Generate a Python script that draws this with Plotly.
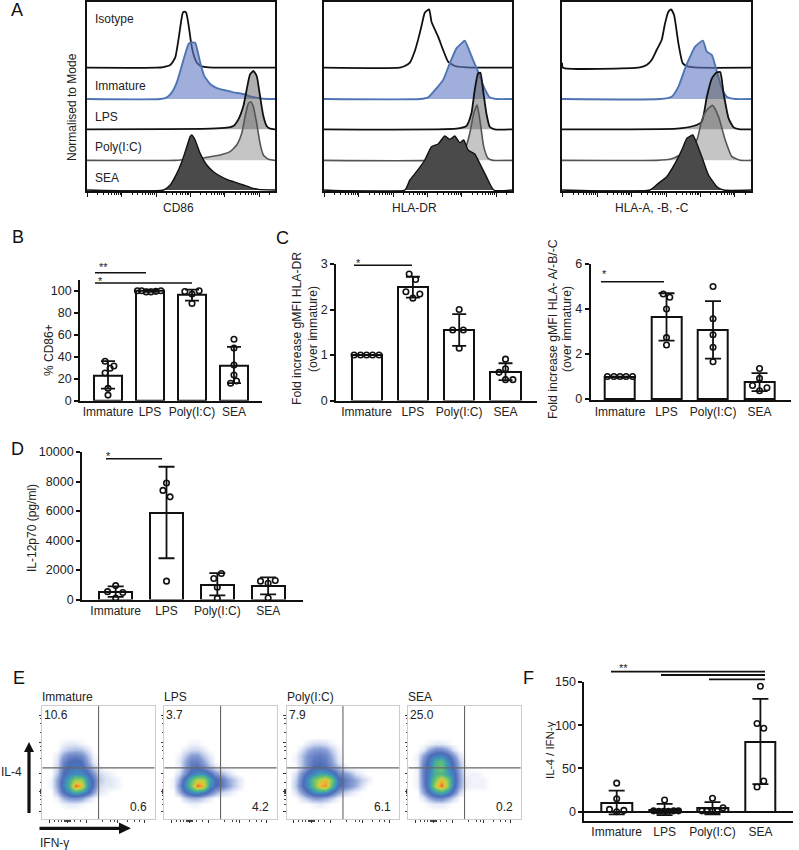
import plotly.graph_objects as go

W, H = 799, 850
FONT = "Liberation Sans"
INK = "#222222"

categories = ["Immature", "LPS", "Poly(I:C)", "SEA"]

# ---------- Panel A: histograms (channel, height above that row's baseline)
row_baselines = {"isotype": 370, "immature": 276, "lps": 185, "poly": 92, "sea": 3}

cd86_isotype_x = [0, 210, 230, 250, 265, 275, 283, 288, 293, 298, 305, 312, 320, 330, 345, 365, 565]
cd86_isotype_h = [0, 0, 2, 8, 30, 85, 140, 165, 168, 165, 130, 80, 40, 15, 4, 1, 0]
cd86_immature_x = [0, 220, 240, 255, 270, 285, 295, 305, 310, 325, 332, 340, 352, 370, 390, 420, 440, 470, 490, 515, 540, 565]
cd86_immature_h = [0, 0, 5, 20, 50, 100, 135, 165, 169, 169, 145, 110, 70, 45, 33, 25, 20, 15, 8, 3, 0, 0]
cd86_lps_x = [0, 370, 420, 440, 455, 470, 480, 490, 500, 510, 520, 530, 540, 550, 565]
cd86_lps_h = [0, 2, 5, 10, 30, 70, 120, 165, 175, 160, 100, 40, 10, 2, 0]
cd86_poly_x = [0, 265, 300, 340, 370, 400, 430, 450, 465, 475, 485, 492, 500, 510, 520, 530, 545, 565]
cd86_poly_h = [0, 0, 3, 5, 11, 16, 26, 46, 81, 131, 171, 176, 161, 111, 51, 16, 3, 0]
cd86_sea_x = [0, 230, 250, 270, 285, 300, 310, 315, 325, 340, 360, 380, 400, 420, 440, 470, 490, 515, 565]
cd86_sea_h = [0, 0, 15, 50, 85, 130, 160, 165, 150, 110, 75, 55, 42, 32, 25, 15, 8, 2, 0]

dr_isotype_x = [0, 228, 243, 258, 273, 283, 293, 303, 316, 323, 343, 358, 373, 393, 428, 565]
dr_isotype_h = [0, 0, 5, 15, 50, 85, 125, 165, 175, 138, 93, 53, 18, 5, 1, 0]
dr_immature_x = [0, 288, 313, 338, 358, 378, 398, 413, 423, 436, 448, 463, 478, 498, 518, 565]
dr_immature_h = [0, 0, 5, 32, 57, 107, 152, 167, 175, 147, 117, 82, 42, 5, 0, 0]
dr_lps_x = [0, 398, 428, 443, 453, 463, 470, 478, 488, 498, 513, 565]
dr_lps_h = [0, 2, 10, 48, 118, 168, 170, 118, 48, 8, 0, 0]
dr_poly_x = [0, 308, 348, 388, 423, 438, 450, 460, 470, 480, 493, 508, 565]
dr_poly_h = [0, 0, 6, 21, 33, 81, 141, 166, 111, 41, 6, 0, 0]
dr_sea_x = [0, 243, 258, 278, 303, 323, 343, 363, 378, 393, 408, 420, 433, 453, 468, 488, 510, 565]
dr_sea_h = [0, 0, 30, 55, 90, 130, 138, 162, 152, 162, 142, 150, 120, 108, 80, 40, 0, 0]

abc_isotype_x = [0, 3, 233, 253, 268, 283, 298, 308, 318, 326, 335, 348, 361, 378, 408, 565]
abc_isotype_h = [15, 0, 1, 8, 23, 53, 83, 133, 168, 175, 158, 73, 13, 3, 0, 0]
abc_immature_x = [0, 293, 328, 348, 368, 383, 398, 421, 433, 448, 463, 478, 493, 518, 565]
abc_immature_h = [0, 0, 7, 37, 92, 127, 157, 175, 142, 132, 82, 32, 7, 0, 0]
abc_lps_x = [0, 343, 393, 418, 433, 448, 461, 473, 483, 498, 513, 533, 565]
abc_lps_h = [0, 2, 10, 23, 98, 153, 170, 172, 108, 33, 6, 0, 0]
abc_poly_x = [0, 283, 323, 353, 373, 403, 418, 433, 450, 468, 488, 508, 533, 565]
abc_poly_h = [0, 0, 3, 16, 31, 61, 121, 151, 165, 131, 61, 11, 0, 0]
abc_sea_x = [0, 263, 288, 313, 338, 358, 373, 381, 391, 401, 418, 438, 463, 483, 565]
abc_sea_h = [0, 0, 20, 40, 80, 120, 155, 160, 165, 145, 100, 45, 10, 0, 0]

# ---------- Panel B
b_means = [23, 100, 96, 32]
b_err_hi = [36, 101, 101, 49]
b_err_lo = [11, 99, 91, 16]
b_pts = [[36, 31.7, 29.6, 25.3, 11.3, 5.2], [100, 100, 99, 99, 99.5, 100], [99.4, 97, 100, 88.4], [56, 48, 32.6, 23.5, 18, 16]]
b_jit = [[-0.07, 0.14, 0.05, -0.07, 0, 0], [-0.3, -0.2, -0.09, 0.02, 0.14, 0.26], [-0.17, 0, 0.17, 0], [0, 0, 0, 0, 0.06, -0.08]]

# ---------- Panel C
c1_means = [1, 2.5, 1.55, 0.63]
c1_err_hi = [1, 2.72, 1.9, 0.82]
c1_err_lo = [1, 2.26, 1.2, 0.45]
c1_pts = [[1, 1, 1, 1, 1], [2.78, 2.66, 2.39, 2.34, 2.25], [2.0, 1.55, 1.55, 1.15], [0.91, 0.70, 0.62, 0.46, 0.46]]
c1_jit = [[-0.27, -0.13, 0, 0.13, 0.27], [-0.08, 0.06, -0.15, 0.15, 0], [0, -0.14, 0.09, 0], [0, 0, -0.14, 0, 0.16]]

c2_means = [1, 3.65, 3.05, 0.75]
c2_err_hi = [1, 4.7, 4.35, 1.15]
c2_err_lo = [1, 2.6, 1.8, 0.35]
c2_pts = [[1, 1, 1, 1, 1], [4.67, 4.52, 4.0, 2.73, 2.4], [5.0, 3.57, 2.86, 2.3, 1.66], [1.36, 0.92, 0.6, 0.5, 0.37]]
c2_jit = [[-0.27, -0.13, 0, 0.13, 0.27], [-0.07, 0.07, 0, 0, 0], [0, 0, 0, 0, 0], [0, 0, -0.15, 0.16, 0]]

# ---------- Panel D
d_means = [500, 5850, 1000, 900]
d_err_hi = [900, 9000, 1800, 1500]
d_err_lo = [180, 2800, 280, 350]
d_pts = [[950, 540, 480, 110], [7900, 7400, 6960, 1250], [1770, 1430, 840, 70], [1250, 1290, 1110, 110]]
d_jit = [[0, -0.16, 0.14, 0], [0, -0.07, 0.07, 0], [0.08, -0.07, 0, 0], [-0.15, 0.14, 0, 0]]

# ---------- Panel F
f_means = [10, 2, 4, 81]
f_err_hi = [24.3, 9, 11, 130.6]
f_err_lo = [-3, -4, -3, 32]
f_pts = [[33, 15, 2.7, 0, 1.5], [13.5, 1, 0.5, 0.5, 0.5, 1, 1], [15.5, 4.6, 1, 0.5, 0.5, 0.5], [145, 102, 96.5, 35.5, 28.5]]
f_jit = [[0, 0, -0.15, 0, 0.15], [0, -0.23, -0.12, -0.02, 0.08, 0.19, 0.29], [0, 0.22, -0.22, -0.12, 0, 0.1], [0, -0.07, 0.07, 0.07, -0.07]]

# ---------- Panel E: density read by eye on a coarse grid (channels)
flow_x = [3, 9, 15, 21, 27, 33, 39, 45, 51, 57, 63, 69, 75, 81, 87]
flow_y = [81, 75, 69, 63, 57, 51, 45, 39, 33, 27, 21, 15, 9]
flow_immature = [
    [0],
    [0, 0, 0, .1, .2, .2, .1],
    [0, 0, 0, .4, .6, .7, .6, .3],
    [0, 0, .2, 1, 1.5, 1.6, 1.4, .7, .1],
    [0, 0, .3, 1.5, 2, 2.2, 2, 1, .2],
    [0, 0, .4, 1.7, 2.2, 2.4, 2.3, 1.4, .6, .1],
    [0, 0, .6, 2, 2.6, 3, 2.8, 2.2, 1.2, .4, .2, .1],
    [0, .1, 1, 2.4, 3.8, 5.5, 5.5, 3, 1.8, .6, .3, .2, .1],
    [0, .1, 1, 2.6, 4.2, 8, 7, 3.2, 1.8, .4, .2, .2, .1],
    [0, 0, .7, 2, 3, 4, 3.4, 2.4, 1.1, .2, .1],
    [0, 0, .1, .8, 1.2, 1.3, 1.1, .5, .1],
    [0, 0, 0, .1, .2, .2, .1],
    [0],
]
flow_lps = [
    [0],
    [0, 0, 0, 0, .1, .1],
    [0, 0, 0, .2, .4, .4, .2],
    [0, 0, .1, .6, 1.1, 1.1, .6, .2],
    [0, 0, .2, .9, 1.6, 1.6, 1, .4],
    [0, 0, .1, 1, 1.8, 2, 1.5, .8, .3, .1],
    [0, 0, .4, 1.3, 2.4, 3, 3, 2.2, 1.2, .8, .4, .1],
    [0, .1, .9, 2.6, 4.5, 6, 6, 3.6, 2.2, 1.8, 1, .6, .2],
    [0, .1, 1.2, 3, 5, 8, 7, 3.2, 2, 1.8, 1.1, .6, .2],
    [0, 0, .8, 2, 3, 3.4, 2.8, 1.8, 1, .5, .3, .1],
    [0, 0, 0, .5, .8, .8, .5, .2],
    [0, 0, 0, 0, .1, .1],
    [0],
]
flow_poly = [
    [0],
    [0, 0, 0, .2, .4, .4, .3, .1],
    [0, 0, .3, .8, 1.1, 1.2, 1, .5, .1],
    [0, .1, .6, 1.2, 1.6, 1.7, 1.5, .8, .2],
    [0, .1, .6, 1.3, 1.8, 1.9, 1.7, 1, .3],
    [0, 0, .6, 1.4, 2, 2.1, 1.9, 1.3, .8, .2],
    [0, .3, 1.3, 2.2, 2.8, 3.5, 3.5, 2.8, 1.6, 1.2, .8, .3, .1],
    [0, .5, 1.7, 3, 4.8, 6, 7, 5, 2.4, 1.8, 1.3, .9, .5, .2],
    [0, .6, 1.8, 3, 4.6, 7, 7.5, 4.4, 2.2, 1.7, 1.2, .8, .3],
    [0, .3, 1.1, 2, 3, 3.5, 3.2, 2.1, 1.2, .6, .3, .1],
    [0, 0, .3, .7, 1.1, 1.1, .9, .5, .1],
    [0, 0, 0, 0, .1, .2, .1],
    [0],
]
flow_sea = [
    [0],
    [0, 0, 0, .1, .2, .2, .1],
    [0, 0, .2, .9, 1.4, 1.4, 1, .3],
    [0, .1, 1, 2, 2.6, 2.8, 2.2, 1.2, .3],
    [0, .1, 1.4, 2.4, 4, 4.6, 3, 1.8, .6],
    [0, .1, 1.6, 2.5, 4.2, 4.8, 3.2, 2, .8, .1],
    [0, .1, 1.6, 2.6, 4, 4.2, 3.4, 2.4, 1, .1, .1, .1],
    [0, .1, 1.5, 3, 5, 7, 5.2, 2.6, 1.1, .2, .1, .1, .1],
    [0, .1, 1.4, 3, 6, 8, 5.6, 2.4, 1, .2, .1, .1, .1],
    [0, 0, 1, 2.2, 3.4, 4, 3.2, 1.7, .5],
    [0, 0, .2, .9, 1.4, 1.5, 1, .4],
    [0, 0, 0, .1, .2, .2, .1],
    [0],
]
flow_labels = ["Immature", "LPS", "Poly(I:C)", "SEA"]
flow_upper_left = ["10.6", "3.7", "7.9", "25.0"]
flow_lower_right = ["0.6", "4.2", "6.1", "0.2"]
flow_major_ticks_x = [7, 25, 44, 75, 102]
flow_minor_ticks_x = [12, 16, 19, 22, 23, 24, 26, 27, 28, 32, 38, 60, 68, 72, 85, 92, 97]
flow_major_ticks_y = [7, 27, 45, 76, 103]
flow_minor_ticks_y = [14, 19, 23, 25, 26, 28, 29, 36, 60, 68, 72, 86, 95, 100]
flow_gate_x = 56
flow_gate_y = 51

# ---------- Layout helpers (pixels of the page to paper fractions)
def X(p):
    return p / W

def Y(p):
    return 1 - p / H

fig = go.Figure()
annotations = []
shapes = []
layout_axes = {}
axis_counter = [0]

def new_axes(x0, x1, y_top, y_bot, xcfg, ycfg):
    axis_counter[0] += 1
    n = axis_counter[0]
    sx = "" if n == 1 else str(n)
    layout_axes["xaxis" + sx] = dict(domain=[X(x0), X(x1)], anchor="y" + sx, **xcfg)
    layout_axes["yaxis" + sx] = dict(domain=[Y(y_bot), Y(y_top)], anchor="x" + sx, **ycfg)
    return "x" + sx, "y" + sx

def text(x, y, s, size=12, anchor="center", angle=0, color=INK):
    nudge = {"left": -1.5, "right": 1.5, "center": 0}[anchor]
    annotations.append(dict(x=X(x + nudge), y=Y(y), xref="paper", yref="paper", text=s, showarrow=False,
                            xanchor=anchor, yanchor="middle", textangle=angle, borderpad=0,
                            font=dict(family=FONT, size=size, color=color)))

def bracket(x0, x1, y, width=1.6):
    shapes.append(dict(type="line", xref="paper", yref="paper", x0=X(x0), x1=X(x1), y0=Y(y), y1=Y(y),
                       line=dict(color="#111111", width=width)))

# ---------- Panel A drawing
decades = [2, 105, 208, 311, 414, 517]
offs = [31, 48, 62, 72, 80, 87, 93, 98]
minor_ticks = [d + o for d in decades for o in offs if d + o < 565]

def histogram_panel(x0, x1, curves, xlabel_x, xlabel):
    xa, ya = new_axes(x0, x1, 1.7, 191,
        dict(range=[0, 565], showgrid=False, zeroline=False, showline=True, mirror=True, linecolor="#111111",
             linewidth=2, ticks="outside", ticklen=4, tickwidth=1.2, tickcolor="#111111",
             tickvals=decades, showticklabels=False,
             minor=dict(tickmode="array", tickvals=minor_ticks, ticks="outside", ticklen=2, tickwidth=1, tickcolor="#111111")),
        dict(range=[0, 568], showgrid=False, zeroline=False, showline=True, mirror=True, linecolor="#111111",
             linewidth=2, ticks="", showticklabels=False))
    styles = {
        "isotype": dict(fill=None, line="#111111", w=1.8),
        "immature": dict(fill="rgba(95,120,195,0.6)", line="#4f74b3", w=1.9),
        "lps": dict(fill="rgba(95,95,95,0.5)", line="#111111", w=1.8),
        "poly": dict(fill="rgba(110,110,110,0.4)", line="#555555", w=1.6),
        "sea": dict(fill="#4a4a4a", line="#111111", w=1.4),
    }
    for name in ["isotype", "immature", "lps", "poly", "sea"]:
        xs, hs = curves[name]
        st = styles[name]
        base = row_baselines[name]
        fig.add_trace(go.Scatter(x=xs, y=[base + h for h in hs], mode="lines", xaxis=xa, yaxis=ya,
                                 line=dict(color=st["line"], width=st["w"], shape="spline", smoothing=0.5),
                                 fill="toself" if st["fill"] else "none", fillcolor=st["fill"],
                                 hoverinfo="skip"))
    text(xlabel_x, 208, xlabel, size=12)

histogram_panel(87, 275, {
    "isotype": (cd86_isotype_x, cd86_isotype_h), "immature": (cd86_immature_x, cd86_immature_h),
    "lps": (cd86_lps_x, cd86_lps_h), "poly": (cd86_poly_x, cd86_poly_h), "sea": (cd86_sea_x, cd86_sea_h)}, 178, "CD86")
histogram_panel(324, 512, {
    "isotype": (dr_isotype_x, dr_isotype_h), "immature": (dr_immature_x, dr_immature_h),
    "lps": (dr_lps_x, dr_lps_h), "poly": (dr_poly_x, dr_poly_h), "sea": (dr_sea_x, dr_sea_h)}, 415, "HLA-DR")
histogram_panel(562, 751, {
    "isotype": (abc_isotype_x, abc_isotype_h), "immature": (abc_immature_x, abc_immature_h),
    "lps": (abc_lps_x, abc_lps_h), "poly": (abc_poly_x, abc_poly_h), "sea": (abc_sea_x, abc_sea_h)}, 652, "HLA-A, -B, -C")

for lab, py in zip(["Isotype", "Immature", "LPS", "Poly(I:C)", "SEA"], [19, 86, 117, 147, 178]):
    text(95, py, lab, size=12, anchor="left")
text(72, 107, "Normalised to Mode", size=12, angle=-90)

# ---------- Bar panels
def bar_panel(x0, x1, y_top, y_bot, xr, yr, yticks, means, hi, lo, pts, jit, barw, cap, zeroline=False):
    xa, ya = new_axes(x0, x1, y_top, y_bot,
        dict(range=xr, showgrid=False, zeroline=False, showline=True, linecolor="#111111", linewidth=1.8,
             tickmode="array", tickvals=[0, 1, 2, 3], ticktext=categories, ticks="", tickangle=0,
             ticklabelstandoff=-1,
             tickfont=dict(family=FONT, size=12, color=INK), automargin=False),
        dict(range=yr, showgrid=False, zeroline=zeroline, zerolinecolor="#111111", zerolinewidth=2,
             showline=True, linecolor="#111111", linewidth=1.8,
             tickmode="array", tickvals=yticks, tickformat="d", ticks="outside", ticklen=4, tickwidth=1.5, tickcolor="#111111",
             tickfont=dict(family=FONT, size=12.5, color=INK), automargin=False))
    fig.add_trace(go.Bar(x=[0, 1, 2, 3], y=means, width=barw, xaxis=xa, yaxis=ya,
                         marker=dict(color="white", line=dict(color="#111111", width=2)),
                         error_y=dict(type="data", symmetric=False,
                                      array=[h - m for h, m in zip(hi, means)],
                                      arrayminus=[m - l for m, l in zip(means, lo)],
                                      color="#111111", thickness=1.8, width=cap),
                         hoverinfo="skip"))
    px, py = [], []
    for i, (ys, js) in enumerate(zip(pts, jit)):
        for v, j in zip(ys, js):
            px.append(i + j)
            py.append(v)
    fig.add_trace(go.Scatter(x=px, y=py, mode="markers", xaxis=xa, yaxis=ya, cliponaxis=False,
                             marker=dict(symbol="circle-open", size=5.5, color="#111111", line=dict(width=1.6, color="#111111")),
                             hoverinfo="skip"))

bar_panel(80, 262, 279.8, 400.8, [-0.667, 3.667], [0, 110], [0, 20, 40, 60, 80, 100],
          b_means, b_err_hi, b_err_lo, b_pts, b_jit, 0.655, 7)
bar_panel(336, 537, 264, 400.6, [-0.66, 3.68], [0, 3], [0, 1, 2, 3],
          c1_means, c1_err_hi, c1_err_lo, c1_pts, c1_jit, 0.65, 7)
bar_panel(590.7, 790.7, 264, 400.4, [-0.63, 3.67], [-0.06, 6], [0, 2, 4, 6],
          c2_means, c2_err_hi, c2_err_lo, c2_pts, c2_jit, 0.645, 8)
bar_panel(82, 302.7, 452, 599.6, [-0.663, 3.68], [0, 10000], [0, 2000, 4000, 6000, 8000, 10000],
          d_means, d_err_hi, d_err_lo, d_pts, d_jit, 0.65, 8)
bar_panel(584.3, 792.7, 682, 820.7, [-0.676, 3.674], [-10.4, 150], [0, 50, 100, 150],
          f_means, f_err_hi, f_err_lo, f_pts, f_jit, 0.64, 8, zeroline=True)

text(49, 350, "% CD86+", size=12, angle=-90)
text(297, 329, "Fold increase gMFI HLA-DR", size=12.2, angle=-90)
text(313, 329, "(over immature)", size=12.2, angle=-90)
text(553, 329, "Fold increase gMFI HLA- A/-B/-C", size=12.3, angle=-90)
text(567, 329, "(over immature)", size=12.2, angle=-90)
text(32, 528, "IL-12p70 (pg/ml)", size=12, angle=-90)
text(550, 750, "IL-4 / IFN-γ", size=11.5, angle=-90)

bracket(95, 146, 272.7)
bracket(95, 192, 283)
bracket(354, 412, 265.3)
bracket(601, 664, 281.7)
bracket(106, 162, 458.7)
bracket(611, 765, 671.7, 1.8)
bracket(661, 765, 675, 1.8)
bracket(709, 765, 679.3, 1.8)
for sx, sy, s in [(103, 267, "**"), (100, 281, "*"), (358, 263, "*"), (604, 274, "*"), (108.7, 456, "*"), (623, 668, "**")]:
    text(sx, sy, s, size=11)

# ---------- Panel E drawing
colorscale = [[0, "#ffffff"], [0.1 / 8.5, "#f1f3fb"], [0.5 / 8.5, "#c3cfec"], [1 / 8.5, "#8ba0d6"],
              [2 / 8.5, "#4d6bb8"], [3 / 8.5, "#3f8fc0"], [4 / 8.5, "#4bb48c"], [5 / 8.5, "#7cc46a"],
              [6 / 8.5, "#bcd645"], [7 / 8.5, "#f2b632"], [8 / 8.5, "#e9602c"], [1, "#d8352a"]]

flow_lefts = [42.3, 164.3, 286.7, 408.3]
for left, z, lab, ul, lr in zip(flow_lefts, [flow_immature, flow_lps, flow_poly, flow_sea], flow_labels, flow_upper_left, flow_lower_right):
    right = left + 112.5
    xa, ya = new_axes(left, right, 705.7, 819,
        dict(range=[0, 112], showgrid=False, zeroline=False, showline=True, mirror=True, linecolor="#cccccc", linewidth=1,
             tickmode="array", tickvals=flow_major_ticks_x, ticks="outside", ticklen=2.5, tickwidth=1, tickcolor="#333333",
             showticklabels=False,
             minor=dict(tickmode="array", tickvals=flow_minor_ticks_x, ticks="outside", ticklen=1.5, tickwidth=1, tickcolor="#444444")),
        dict(range=[0, 113], showgrid=False, zeroline=False, showline=True, mirror=True, linecolor="#cccccc", linewidth=1,
             tickmode="array", tickvals=flow_major_ticks_y, ticks="outside", ticklen=2.5, tickwidth=1, tickcolor="#333333",
             showticklabels=False,
             minor=dict(tickmode="array", tickvals=flow_minor_ticks_y, ticks="outside", ticklen=1.5, tickwidth=1, tickcolor="#444444")))
    rows = [r + [0] * (len(flow_x) - len(r)) for r in z]
    fig.add_trace(go.Heatmap(x=flow_x, y=flow_y[::-1], z=rows[::-1], zsmooth="best", zmin=0, zmax=8.5,
                             colorscale=colorscale, showscale=False, xaxis=xa, yaxis=ya, hoverinfo="skip"))
    fig.add_trace(go.Scatter(x=[flow_gate_x, flow_gate_x], y=[0, 113], mode="lines", xaxis=xa, yaxis=ya,
                             line=dict(color="#666666", width=1.1), hoverinfo="skip"))
    fig.add_trace(go.Scatter(x=[0, 112], y=[flow_gate_y, flow_gate_y], mode="lines", xaxis=xa, yaxis=ya,
                             line=dict(color="#666666", width=1.1), hoverinfo="skip"))
    text(left + 0.5, 697, lab, size=12, anchor="left")
    text(left + 2.5, 714.5, ul, size=12, anchor="left")
    text(right - 8.5, 807, lr, size=12, anchor="right")

# Arrows
shapes.append(dict(type="line", xref="paper", yref="paper", x0=X(29), x1=X(29), y0=Y(813), y1=Y(750), line=dict(color="#111111", width=3.2)))
shapes.append(dict(type="line", xref="paper", yref="paper", x0=X(39.5), x1=X(120), y0=Y(828.3), y1=Y(828.3), line=dict(color="#111111", width=3.2)))
def tri(a, b, c):
    return "M{:.5f},{:.5f} L{:.5f},{:.5f} L{:.5f},{:.5f} Z".format(X(a[0]), Y(a[1]), X(b[0]), Y(b[1]), X(c[0]), Y(c[1]))
shapes.append(dict(type="path", xref="paper", yref="paper", path=tri((29, 742), (24, 752), (34, 752)), fillcolor="#111111", line=dict(width=0)))
shapes.append(dict(type="path", xref="paper", yref="paper", path=tri((131, 828.3), (119, 822.5), (119, 834)), fillcolor="#111111", line=dict(width=0)))
text(1, 771.7, "IL-4", size=12, anchor="left")
text(40, 843, "IFN-γ", size=12, anchor="left")

# Panel letters
for lx, ly, s in [(11, 10, "A"), (12, 237, "B"), (276, 238, "C"), (11, 449, "D"), (13, 678, "E"), (523, 678, "F")]:
    text(lx, ly, s, size=18, anchor="left", color="#111111")

fig.update_layout(width=W, height=H, margin=dict(l=0, r=0, t=0, b=0), autosize=False, showlegend=False,
                  paper_bgcolor="white", plot_bgcolor="rgba(0,0,0,0)", bargap=0,
                  annotations=annotations, shapes=shapes, **layout_axes)
fig.write_html("out.html", config={"displayModeBar": False},
               post_script="document.body.style.margin='0';document.documentElement.style.overflow='hidden';")
